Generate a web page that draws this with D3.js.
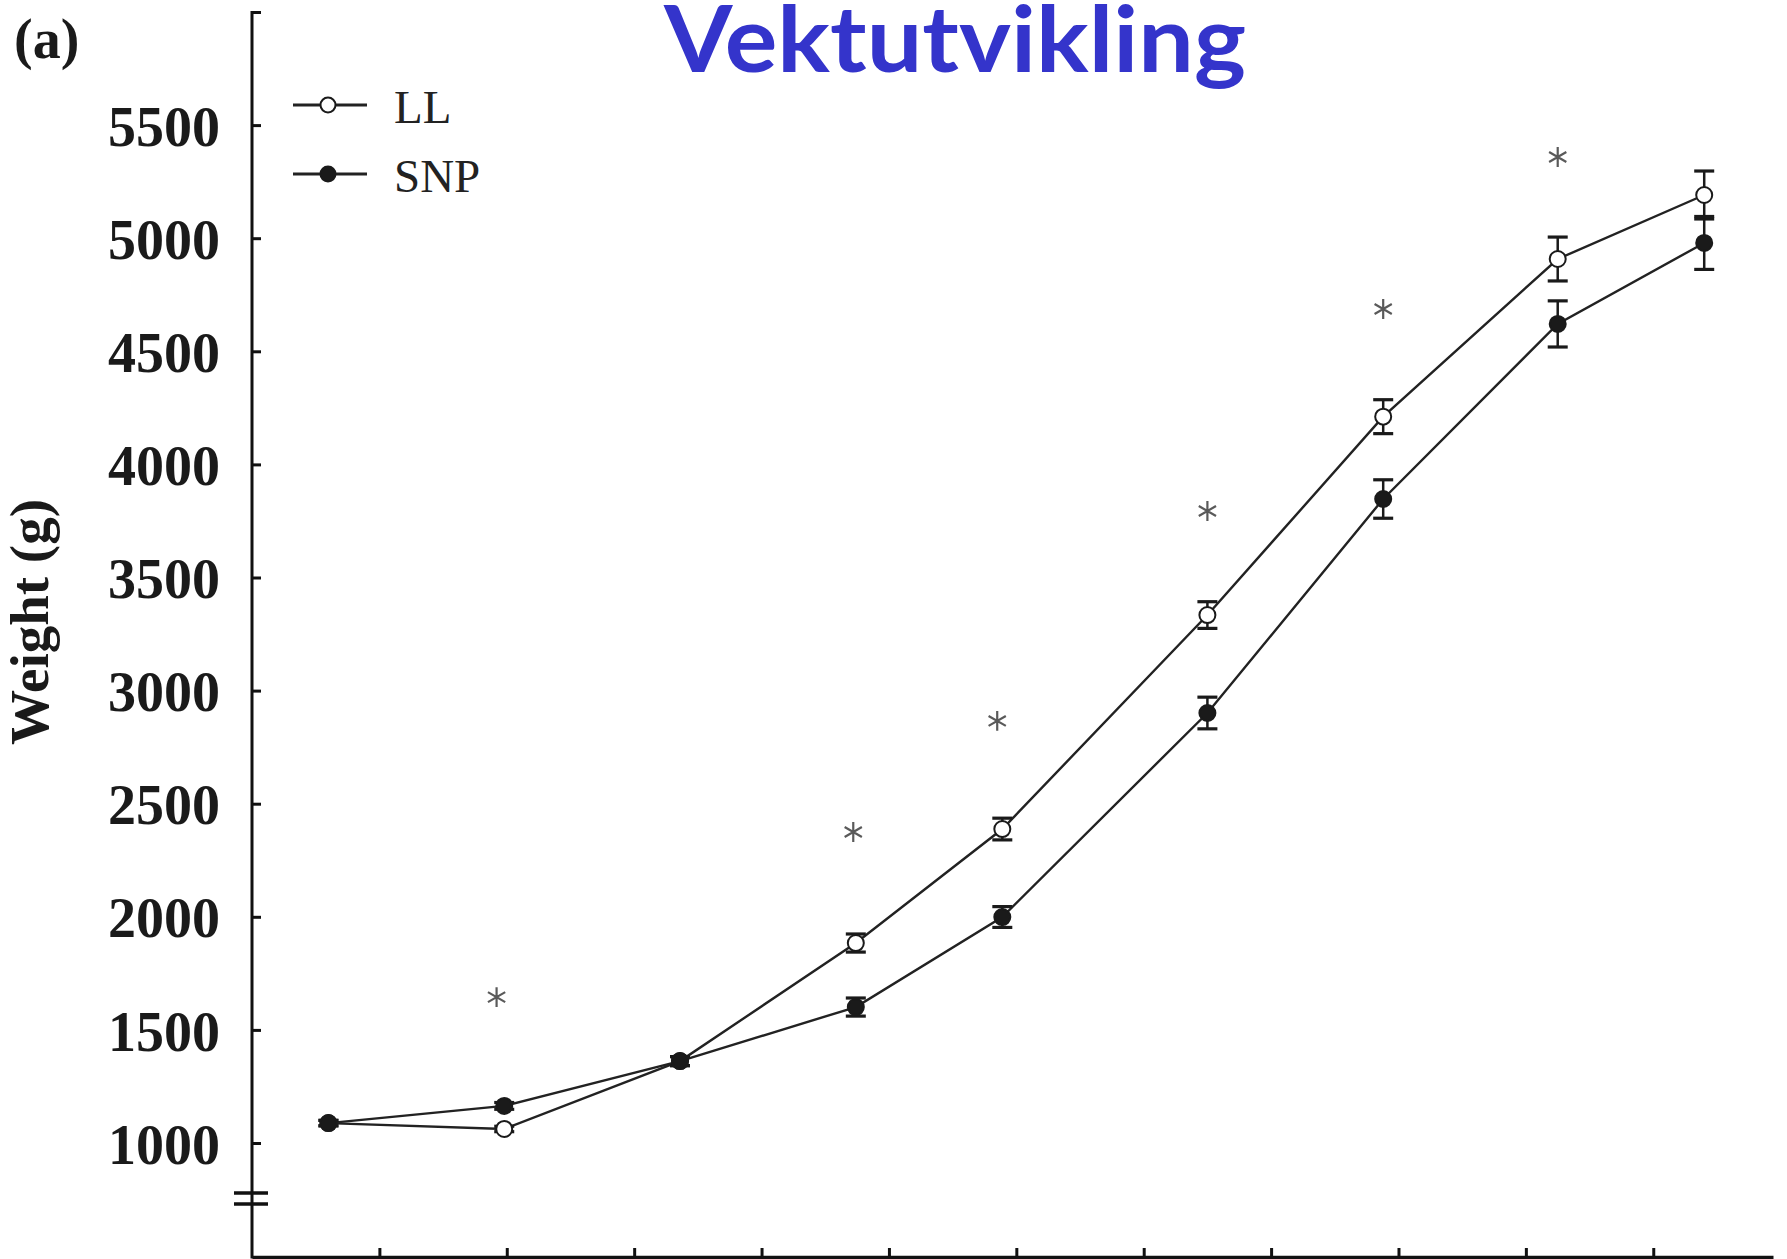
<!DOCTYPE html>
<html>
<head>
<meta charset="utf-8">
<script src="https://cdn.jsdelivr.net/npm/d3@7"></script>
<style>
  body { margin: 0; background: #fff; }
  svg { display: block; }
</style>
</head>
<body>
<div id="chart"></div>
<script>
// data (x in axis tick units, weight in grams)
const series = ["LL", "SNP"];
const xPos   = [0.60, 1.98, 3.36, 4.74, 5.89, 7.50, 8.88, 10.25, 11.40];
const llMean = [1088, 1062, 1362, 1884, 2388, 3334, 4211, 4908, 5191];
const llSe   = [12, 12, 20, 40, 48, 59, 75, 97, 106];
const snpMean = [1088, 1164, 1362, 1601, 1999, 2901, 3847, 4621, 4979];
const snpSe   = [12, 15, 20, 40, 46, 70, 85, 102, 117];
const starX = [1.92, 4.72, 5.85, 7.50, 8.88, 10.25];
const starY = [1645, 2375, 2866, 3794, 4687, 5359];
const yTicks = [1000, 1500, 2000, 2500, 3000, 3500, 4000, 4500, 5000, 5500, 6000];
const xTicks = [1, 2, 3, 4, 5, 6, 7, 8, 9, 10, 11];

const width = 1787, height = 1259;
const axisX = 252, axisBottom = 1257;

const svg = d3.select("#chart")
  .append("svg")
    .attr("width", width)
    .attr("height", height);

svg.append("rect").attr("width", width).attr("height", height).attr("fill", "#fff");

// scales
const x = d3.scaleLinear().domain([0, 11.94]).range([axisX, 1773]);
const y = d3.scaleLinear().domain([1000, 6000]).range([1143, 12]);

// y axis (ticks inward, labels only to 5500)
const yAxis = svg.append("g")
  .attr("transform", `translate(${axisX},0)`)
  .call(d3.axisLeft(y)
    .tickValues(yTicks)
    .tickSizeInner(-9)
    .tickSizeOuter(0)
    .tickPadding(32)
    .tickFormat(d => d === 6000 ? "" : d));
yAxis.select(".domain").remove();
yAxis.selectAll(".tick line").attr("stroke", "#111").attr("stroke-width", 3);
yAxis.selectAll(".tick text")
  .attr("font-family", "'Liberation Serif', 'Times New Roman', serif")
  .attr("font-weight", "bold")
  .attr("font-size", 56)
  .attr("fill", "#1a1a1a")
  .attr("dy", "0.36em");

svg.append("line")
  .attr("x1", axisX).attr("x2", axisX)
  .attr("y1", y(6000) - 1).attr("y2", axisBottom + 1.5)
  .attr("stroke", "#111").attr("stroke-width", 3);

// axis break marks
[1193, 1204].forEach(yy => {
  svg.append("line")
    .attr("x1", axisX - 18).attr("x2", axisX + 16)
    .attr("y1", yy).attr("y2", yy)
    .attr("stroke", "#111").attr("stroke-width", 3.5);
});

// x axis (no labels)
const xAxis = svg.append("g")
  .attr("transform", `translate(0,${axisBottom})`)
  .call(d3.axisBottom(x)
    .tickValues(xTicks)
    .tickSizeInner(-9)
    .tickSizeOuter(0)
    .tickFormat(""));
xAxis.select(".domain").attr("stroke", "#111").attr("stroke-width", 3.5);
xAxis.selectAll(".tick line").attr("stroke", "#111").attr("stroke-width", 3);

// y axis title
svg.append("text")
  .attr("transform", `translate(48,622) rotate(-90)`)
  .attr("text-anchor", "middle")
  .attr("font-family", "'Liberation Serif', 'Times New Roman', serif")
  .attr("font-weight", "bold")
  .attr("font-size", 55)
  .attr("fill", "#1a1a1a")
  .text("Weight (g)");

// panel label
svg.append("text")
  .attr("x", 14).attr("y", 58)
  .attr("font-family", "'Liberation Serif', 'Times New Roman', serif")
  .attr("font-weight", "bold")
  .attr("font-size", 56)
  .attr("fill", "#1a1a1a")
  .text("(a)");

// title
svg.append("text")
  .attr("x", 664).attr("y", 72)
  .attr("textLength", 582)
  .attr("lengthAdjust", "spacingAndGlyphs")
  .attr("font-family", "Lato, 'Open Sans', sans-serif")
  .attr("font-weight", "bold")
  .attr("font-size", 92)
  .attr("fill", "#3434cb")
  .text("Vektutvikling");

// build series table
const data = [
  { name: "LL", fill: "#fff", pts: xPos.map((d, i) => ({ x: d, m: llMean[i], se: llSe[i] })) },
  { name: "SNP", fill: "#1a1a1a", pts: xPos.map((d, i) => ({ x: d, m: snpMean[i], se: snpSe[i] })) }
];

const line = d3.line().x(d => x(d.x)).y(d => y(d.m));

// lines
svg.selectAll(".series-line")
  .data(data)
  .join("path")
    .attr("class", "series-line")
    .attr("fill", "none")
    .attr("stroke", "#222")
    .attr("stroke-width", 2.4)
    .attr("d", d => line(d.pts));

// error bars + markers
data.forEach(s => {
  const g = svg.append("g");
  s.pts.forEach(p => {
    const cx = x(p.x), top = y(p.m + p.se), bot = y(p.m - p.se);
    g.append("line").attr("x1", cx).attr("x2", cx).attr("y1", top).attr("y2", bot)
      .attr("stroke", "#1a1a1a").attr("stroke-width", 2.5);
    [top, bot].forEach(yy => {
      g.append("line").attr("x1", cx - 10).attr("x2", cx + 10).attr("y1", yy).attr("y2", yy)
        .attr("stroke", "#1a1a1a").attr("stroke-width", 3.2);
    });
  });
  g.selectAll("circle")
    .data(s.pts)
    .join("circle")
      .attr("cx", d => x(d.x))
      .attr("cy", d => y(d.m))
      .attr("r", 8)
      .attr("fill", s.fill)
      .attr("stroke", "#1a1a1a")
      .attr("stroke-width", 2);
});

// significance asterisks
svg.selectAll(".star")
  .data(starX.map((d, i) => ({ x: d, v: starY[i] })))
  .join("path")
    .attr("class", "star")
    .attr("transform", d => `translate(${x(d.x)},${y(d.v)})`)
    .attr("d", d3.symbol(d3.symbolAsterisk, 280))
    .attr("fill", "none")
    .attr("stroke", "#5a5a5a")
    .attr("stroke-width", 2.2);

// legend
const legend = svg.append("g");
series.forEach((name, i) => {
  const ly = 105 + i * 69;
  legend.append("line")
    .attr("x1", 293).attr("x2", 367).attr("y1", ly).attr("y2", ly)
    .attr("stroke", "#222").attr("stroke-width", 3);
  legend.append("circle")
    .attr("cx", 328).attr("cy", ly).attr("r", 7.5)
    .attr("fill", i === 0 ? "#fff" : "#1a1a1a")
    .attr("stroke", "#1a1a1a").attr("stroke-width", 2);
  legend.append("text")
    .attr("x", 394).attr("y", ly + 18)
    .attr("font-family", "'Liberation Serif', 'Times New Roman', serif")
    .attr("font-size", 47)
    .attr("fill", "#222")
    .text(name);
});
</script>
</body>
</html>
